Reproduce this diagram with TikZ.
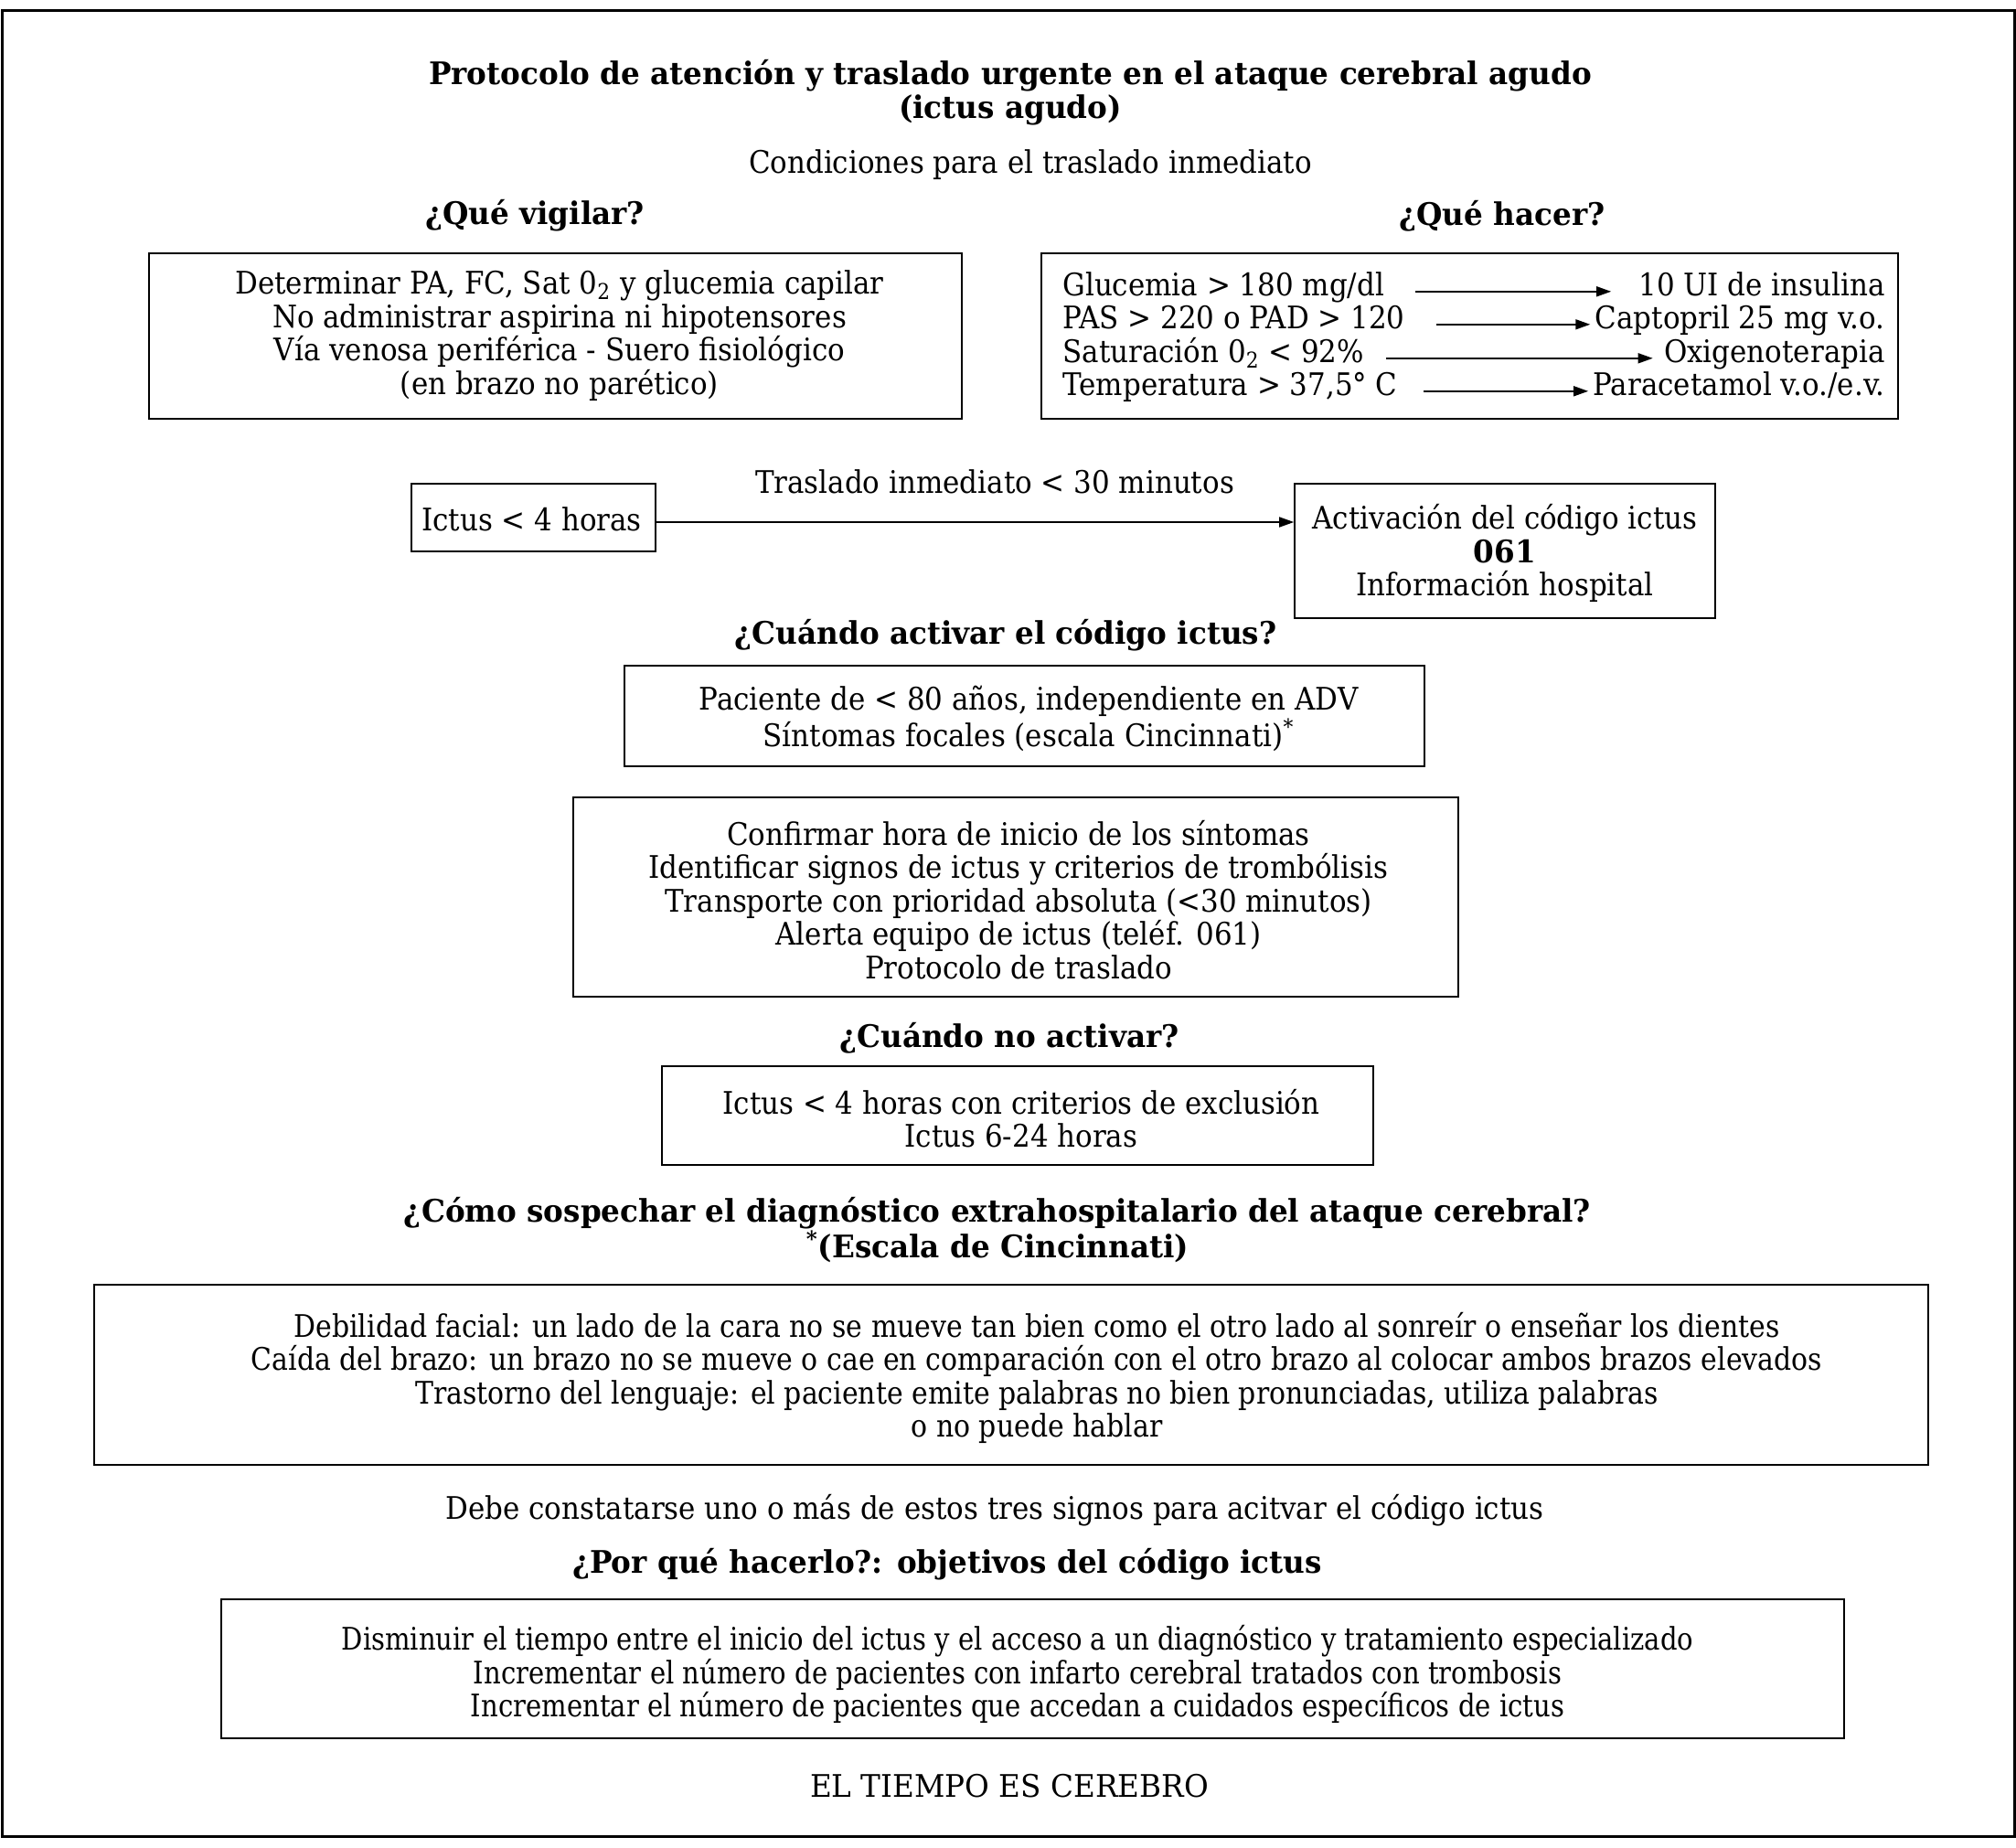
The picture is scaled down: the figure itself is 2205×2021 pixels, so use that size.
\documentclass[tikz,border=0pt]{standalone}
\usepackage{fontspec}
\setmainfont{DejaVu Serif}[FakeStretch=0.91]
\newfontfamily\hdfont{DejaVu Serif Bold}[FakeStretch=0.96]
\newfontfamily\cinfont{DejaVu Serif}[FakeStretch=0.88]
\newfontfamily\objfont{DejaVu Serif}[FakeStretch=0.855]
\newfontfamily\capsfont{DejaVu Serif}[FakeStretch=0.96]
\usetikzlibrary{arrows.meta}
\tikzset{
  every node/.style={font=\fontsize{17pt}{18.3pt}\selectfont, inner sep=0pt},
  boxn/.style={draw, line width=0.8pt},
  txt/.style={align=center},
  hd/.style={align=center, font=\fontsize{17pt}{18.3pt}\selectfont\hdfont},
  arr/.style={-{Triangle[length=8pt,width=5.5pt]}, line width=0.8pt}
}
\begin{document}
\begin{tikzpicture}[x=0.5pt,y=-0.5pt]
\useasboundingbox (0,0) rectangle (2205,2021);
\draw[line width=1.5pt] (2,12) rectangle (2203,2008);

\node[hd] (title) at (1105,101) {Protocolo de atención y traslado urgente en el ataque cerebral agudo\\(ictus agudo)};
\node[txt] (cond) at (1127,180) {Condiciones para el traslado inmediato};
\node[hd] (qv) at (585,236) {¿Qué vigilar?};
\node[hd] (qh) at (1643,236) {¿Qué hacer?};

\node[boxn, minimum width=444.5pt, minimum height=90.5pt] (vig) at (607.5,367.5) {};
\node[txt] (vigT) at (612,367) {Determinar PA, FC, Sat 0\textsubscript{2} y glucemia capilar\\No administrar aspirina ni hipotensores\\Vía venosa periférica - Suero fisiológico\\(en brazo no parético)};

\node[boxn, minimum width=468.5pt, minimum height=90.5pt] (hac) at (1607.5,367.5) {};
\node[anchor=base west] (g1) at (1162,324) {Glucemia > 180 mg/dl};
\node[anchor=base east] (g2) at (2062,324) {10 UI de insulina};
\node[anchor=base west] (p1) at (1162,360) {PAS > 220 o PAD > 120};
\node[anchor=base east] (p2) at (2062,360) {Captopril 25 mg v.o.};
\node[anchor=base west] (s1) at (1162,397) {Saturación 0\textsubscript{2} < 92\%};
\node[anchor=base east] (s2) at (2062,397) {Oxigenoterapia};
\node[anchor=base west] (t1) at (1162,433) {Temperatura > 37,5° C};
\node[anchor=base east] (t2) at (2062,433) {Paracetamol v.o./e.v.};
\draw[arr, shorten <=17pt, shorten >=15pt] (g1.mid east) -- (g2.mid west);
\draw[arr, shorten <=17pt, shorten >=2.5pt] (p1.mid east) -- (p2.mid west);
\draw[arr, shorten <=12pt, shorten >=6pt] (s1.mid east) -- (s2.mid west);
\draw[arr, shorten <=14pt, shorten >=2.5pt] (t1.mid east) -- (t2.mid west);

\node[boxn, minimum width=133.5pt, minimum height=37pt] (ictus) at (583.5,566) {};
\node[txt] (ictusT) at (581.5,568) {Ictus < 4 horas};
\node[boxn, minimum width=230pt, minimum height=73.5pt] (act) at (1646,602.5) {};
\node[txt] (actT) at (1646,605) {Activación del código ictus\\{\hdfont 061}\\Información hospital};
\node[txt] (tras) at (1088,527) {Traslado inmediato < 30 minutos};
\draw[arr] (ictus.east |- 0,571) -- (act.west |- 0,571);

\node[hd] (qa) at (1100,695) {¿Cuándo activar el código ictus?};
\node[boxn, minimum width=437.5pt, minimum height=55pt] (pac) at (1120.5,783) {};
\node[txt] (pacT) at (1125,786) {Paciente de < 80 años, independiente en ADV\\Síntomas focales (escala Cincinnati)\textsuperscript{*}};

\node[boxn, minimum width=484pt, minimum height=109pt] (conf) at (1111,981) {};
\node[txt] (confT) at (1114,984) {Confirmar hora de inicio de los síntomas\\Identificar signos de ictus y criterios de trombólisis\\Transporte con prioridad absoluta (<30 minutos)\\Alerta equipo de ictus (teléf. 061)\\Protocolo de traslado};

\node[hd] (qn) at (1104,1135) {¿Cuándo no activar?};
\node[boxn, minimum width=389pt, minimum height=54pt] (noact) at (1113,1220) {};
\node[txt] (noactT) at (1117,1223) {Ictus < 4 horas con criterios de exclusión\\Ictus 6-24 horas};

\node[hd] (qc) at (1091,1345) {¿Cómo sospechar el diagnóstico extrahospitalario del ataque cerebral?\\\textsuperscript{*}(Escala de Cincinnati)};
\node[boxn, minimum width=1003pt, minimum height=98.5pt] (cin) at (1106,1503.5) {};
\node[txt, font=\fontsize{17pt}{18.3pt}\cinfont] (cinT) at (1134,1507) {Debilidad facial: un lado de la cara no se mueve tan bien como el otro lado al sonreír o enseñar los dientes\\Caída del brazo: un brazo no se mueve o cae en comparación con el otro brazo al colocar ambos brazos elevados\\Trastorno del lenguaje: el paciente emite palabras no bien pronunciadas, utiliza palabras\\o no puede hablar};

\node[txt] (debe) at (1088,1652) {Debe constatarse uno o más de estos tres signos para acitvar el código ictus};
\node[hd] (qp) at (1036,1711) {¿Por qué hacerlo?: objetivos del código ictus};
\node[boxn, minimum width=887.5pt, minimum height=76pt] (obj) at (1129.5,1825) {};
\node[txt, font=\fontsize{17pt}{18.3pt}\objfont] (objT) at (1113,1831) {Disminuir el tiempo entre el inicio del ictus y el acceso a un diagnóstico y tratamiento especializado\\Incrementar el número de pacientes con infarto cerebral tratados con trombosis\\Incrementar el número de pacientes que accedan a cuidados específicos de ictus};

\node[txt, font=\fontsize{17pt}{18.3pt}\capsfont] (tiempo) at (1104,1953) {EL TIEMPO ES CEREBRO};
\end{tikzpicture}
\end{document}
